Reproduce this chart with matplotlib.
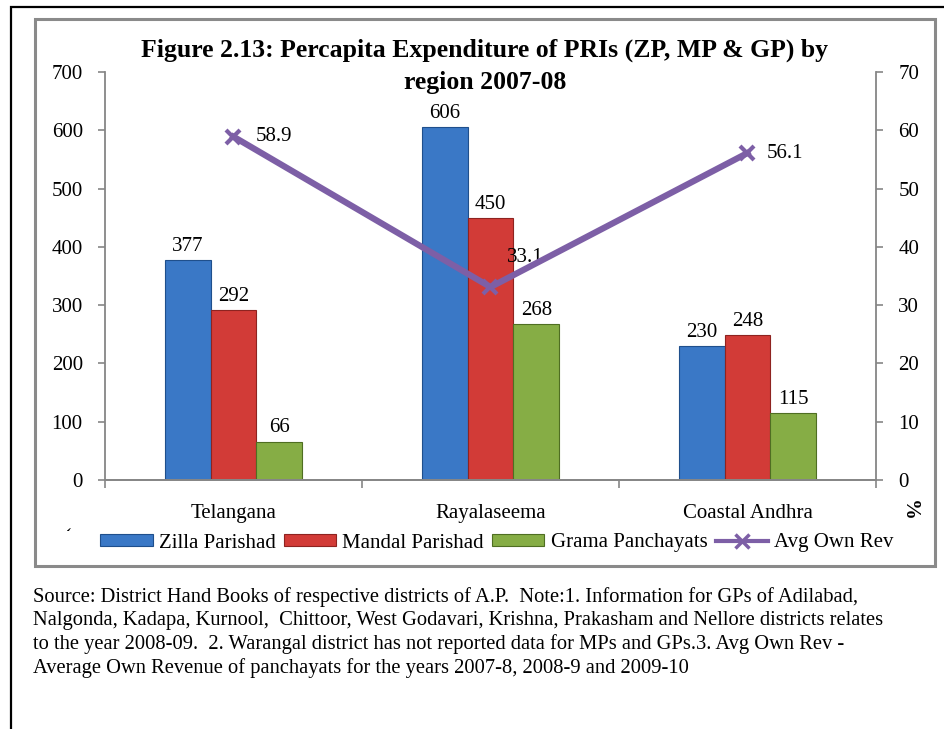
import numpy as np
import matplotlib
matplotlib.use('Agg')
import matplotlib.pyplot as plt
from matplotlib.patches import Rectangle
from matplotlib.lines import Line2D

plt.rcParams['font.family'] = ['Liberation Serif', 'DejaVu Serif']

# data
regions = ['Telangana', 'Rayalaseema', 'Coastal Andhra']
zilla = [377, 606, 230]
mandal = [292, 450, 248]
grama = [66, 268, 115]
avg_own_rev = [58.9, 33.1, 56.1]
series_names = ['Zilla Parishad', 'Mandal Parishad', 'Grama Panchayats', 'Avg Own Rev']

TITLE = 'Figure 2.13: Percapita Expenditure of PRIs (ZP, MP & GP) by\nregion 2007-08'
SOURCE = ('Source: District Hand Books of respective districts of A.P.  Note:1. Information for GPs of Adilabad,\n'
          'Nalgonda, Kadapa, Kurnool,  Chittoor, West Godavari, Krishna, Prakasham and Nellore districts relates\n'
          'to the year 2008-09.  2. Warangal district has not reported data for MPs and GPs.3. Avg Own Rev -\n'
          'Average Own Revenue of panchayats for the years 2007-8, 2008-9 and 2009-10')

colors = ['#3a78c6', '#d23b37', '#86ad45']
edges = ['#1f4f8c', '#8e2320', '#4f6e22']
line_color = '#7d5fa6'
axis_gray = '#868686'

fig = plt.figure(figsize=(9.45, 7.29), dpi=100)
W, H = 945, 729

# outer black frame and gray chart frame
fig.patches.append(Rectangle((11 / W, -0.02), 1.05, 1 - 7 / H + 0.02, transform=fig.transFigure,
                             fill=False, edgecolor='black', linewidth=1.6))
fig.patches.append(Rectangle((35 / W, 1 - 566 / H), 900 / W, 547 / H, transform=fig.transFigure,
                             fill=False, edgecolor='#8a8a8a', linewidth=2.2))

ax = fig.add_axes([105 / W, 1 - 480 / H, 771 / W, 408 / H])
ax2 = ax.twinx()

x = np.arange(len(regions))
bw = 0.178
bar_sets = []
for k, vals in enumerate([zilla, mandal, grama]):
    bars = ax.bar(x + (k - 1) * bw, vals, bw, color=colors[k], edgecolor=edges[k],
                  linewidth=0.8, label=series_names[k], zorder=2)
    bar_sets.append(bars)
    for xi, v in zip(x + (k - 1) * bw, vals):
        ax.annotate(f'{v}', (xi, v), xytext=(0, 3), textcoords='offset points',
                    ha='center', va='bottom', fontsize=15)

ax.set_xlim(-0.5, 2.5)
ax.set_ylim(0, 700)
ax.set_yticks(range(0, 701, 100))
ax.set_xticks([-0.5, 0.5, 1.5, 2.5], minor=False)
ax.set_xticklabels([])
ax.set_xticks(x, minor=True)
ax.set_xticklabels(regions, minor=True)
ax.tick_params(axis='x', which='minor', length=0, pad=17, labelsize=15)
ax.tick_params(axis='x', which='major', length=6, color=axis_gray, width=1.2)
ax.tick_params(axis='y', length=5, color=axis_gray, width=1.2, pad=11, labelsize=15)

ax2.plot(x, avg_own_rev, color=line_color, linewidth=4.5, marker='x', markersize=10,
         markeredgewidth=3, zorder=5, label=series_names[3])
ax2.set_ylim(0, 70)
ax2.set_yticks(range(0, 71, 10))
ax2.tick_params(axis='y', length=5, color=axis_gray, width=1.2, pad=11, labelsize=15)
label_offsets = [(16, 0), (12, 21), (14, 0)]
for xi, v, off in zip(x, avg_own_rev, label_offsets):
    ax2.annotate(f'{v}', (xi, v), xytext=off, textcoords='offset points',
                 ha='left', va='center', fontsize=15)

for a in (ax, ax2):
    a.spines['top'].set_visible(False)
    for s in a.spines.values():
        s.set_color(axis_gray)
        s.set_linewidth(1.3)
ax2.spines['left'].set_visible(False)
ax.spines['right'].set_visible(False)

fig.text(485 / W, 1 - 66 / H, TITLE, ha='center', va='center', fontsize=18.5,
         fontweight='bold', linespacing=1.5)
fig.text(909 / W, 1 - 510 / H, '%', rotation=270, ha='center', va='center',
         fontsize=15, fontweight='bold')
fig.text(67 / W, 1 - 520 / H, '\u00b4', rotation=180, ha='center', va='center', fontsize=13)

handles = [bar_sets[0][0], bar_sets[1][0], bar_sets[2][0],
           Line2D([], [], color=line_color, linewidth=3, marker='x', markersize=10,
                  markeredgewidth=2.5)]
fig.legend(handles, series_names, loc='center', bbox_to_anchor=(497 / W, 1 - 543 / H),
           ncol=4, frameon=False, fontsize=15, handlelength=2.5, handleheight=0.55,
           handletextpad=0.3, columnspacing=0.4, borderpad=0)

fig.text(33 / W, 1 - 587 / H, SOURCE, ha='left', va='top', fontsize=14.75, linespacing=1.28)

fig.savefig('out.png', dpi=100)
